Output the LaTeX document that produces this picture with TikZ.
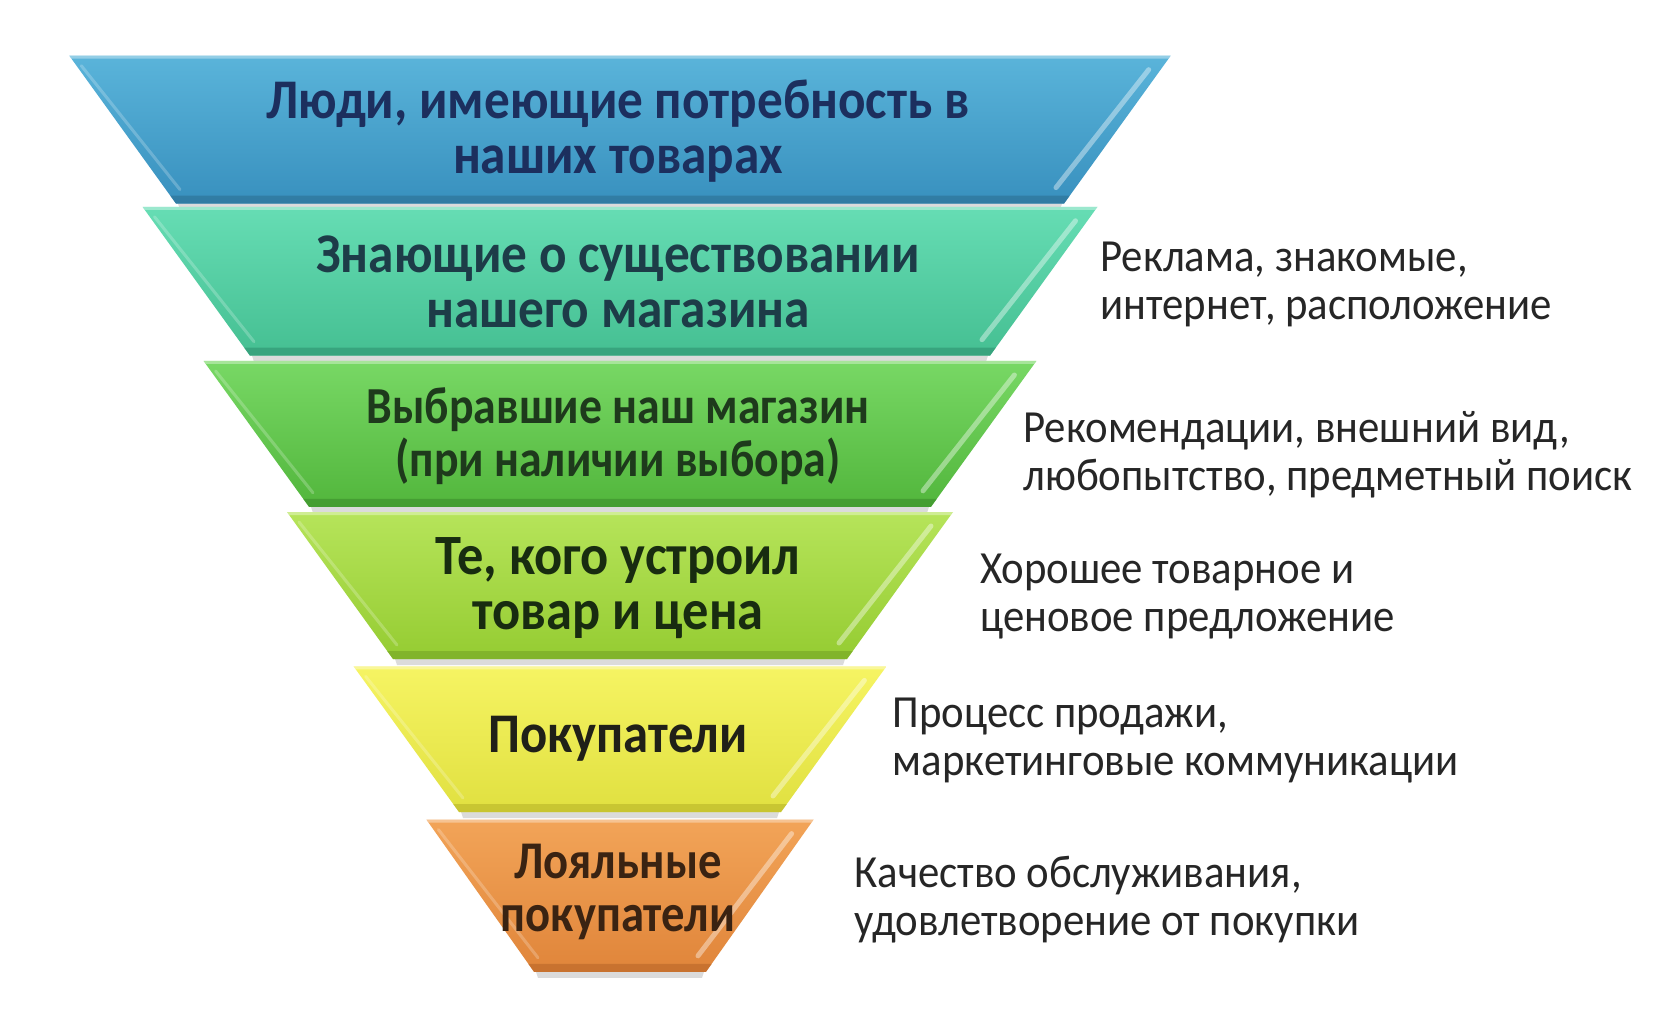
\documentclass[tikz,border=0pt]{standalone}
\usepackage{fontspec}
\setmainfont{Carlito}
\newfontfamily\layD[FakeStretch=0.88]{Carlito}
\newfontfamily\layA[FakeStretch=0.915]{Carlito}
\newfontfamily\layB[FakeStretch=0.92]{Carlito}
\newfontfamily\layC[FakeStretch=0.905]{Carlito}
\newfontfamily\sidefont[FakeStretch=0.93]{Carlito}
\definecolor{cAa}{HTML}{5AB4DA}\definecolor{cAb}{HTML}{3890BE}\definecolor{cAd}{HTML}{2C6F92}
\definecolor{cBa}{HTML}{66DDB4}\definecolor{cBb}{HTML}{45BF92}\definecolor{cBd}{HTML}{2F9270}
\definecolor{cCa}{HTML}{78D865}\definecolor{cCb}{HTML}{52B63C}\definecolor{cCd}{HTML}{3C8E2C}
\definecolor{cDa}{HTML}{B6E45A}\definecolor{cDb}{HTML}{95CC32}\definecolor{cDd}{HTML}{74A424}
\definecolor{cEa}{HTML}{F6F463}\definecolor{cEb}{HTML}{E0E040}\definecolor{cEd}{HTML}{B8B428}
\definecolor{cFa}{HTML}{F2A458}\definecolor{cFb}{HTML}{E0853A}\definecolor{cFd}{HTML}{B86628}
\definecolor{tA}{HTML}{1C2F5E}\definecolor{tB}{HTML}{1D3C48}\definecolor{tC}{HTML}{1E3A1C}
\definecolor{tD}{HTML}{182C10}\definecolor{tE}{HTML}{202018}\definecolor{tF}{HTML}{3A2312}
\definecolor{sidegray}{HTML}{262626}
\tikzset{
  laytext/.style={align=center, inner sep=0pt},
  sidetext/.style={font=\sidefont\fontsize{23}{24}\selectfont, align=left, anchor=west, inner sep=0pt, text=sidegray},
}
\begin{document}
\begin{tikzpicture}[x=0.5pt,y=-0.5pt]
\useasboundingbox[fill=white] (0,0) rectangle (1680,1021);
\foreach \ty/\by/\wt/\wb/\ca/\cb/\cd in {
  55.7/203.6/550.7/444/cAa/cAb/cAd,
  206.8/355.7/477.5/370/cBa/cBb/cBd,
  361/506.8/416.4/311/cCa/cCb/cCd,
  512/659/333/227/cDa/cDb/cDd,
  666.4/812/266.4/161/cEa/cEb/cEd,
  819.6/971.8/193.6/86/cFa/cFb/cFd}{
  \fill[black!40,opacity=0.35] (620-\wb+2,\by) -- (620+\wb-2,\by) -- (620+\wb-4,\by+6) -- (620-\wb+4,\by+6) -- cycle;
  \path[top color=\ca, bottom color=\cb] (620-\wt,\ty) -- (620+\wt,\ty) -- (620+\wb,\by) -- (620-\wb,\by) -- cycle;
  \fill[\cd,opacity=0.6] (620-\wb-5.8,\by-8) -- (620+\wb+5.8,\by-8) -- (620+\wb,\by) -- (620-\wb,\by) -- cycle;
  \fill[white,opacity=0.35] (620-\wt,\ty) -- (620+\wt,\ty) -- (620+\wt-2.2,\ty+3) -- (620-\wt+2.2,\ty+3) -- cycle;
  \draw[white,opacity=0.4,line width=2.5pt,line cap=round] (620+\wt-22,\ty+14) -- (620+\wb-8,\by-16);
  \draw[white,opacity=0.22,line width=1.5pt,line cap=round] (620-\wt+12,\ty+10) -- (620-\wb+4,\by-14);
}
\node[laytext,text=tA,font=\layA\bfseries\fontsize{28}{27.6}\selectfont] (l1) at (618,130.8) {Люди, имеющие потребность в\\наших товарах};
\node[laytext,text=tB,font=\layA\bfseries\fontsize{28}{27.6}\selectfont] (l2) at (618,282) {Знающие о существовании\\нашего магазина};
\node[laytext,text=tC,font=\layD\bfseries\fontsize{26}{26.5}\selectfont] (l3) at (618,436.5) {Выбравшие наш магазин\\(при наличии выбора)};
\node[laytext,text=tD,font=\layB\bfseries\fontsize{28.5}{27.6}\selectfont] (l4) at (618,588) {Те, кого устроил\\товар и цена};
\node[laytext,text=tE,font=\layC\bfseries\fontsize{28}{27.6}\selectfont] (l5) at (618,739) {Покупатели};
\node[laytext,text=tF,font=\layD\bfseries\fontsize{26.5}{26.5}\selectfont] (l6) at (618,892) {Лояльные\\покупатели};
\node[sidetext] (r2) at (1100,284) {Реклама, знакомые,\\интернет, расположение};
\node[sidetext] (r3) at (1023,455) {Рекомендации, внешний вид,\\любопытство, предметный поиск};
\node[sidetext] (r4) at (980,597) {Хорошее товарное и\\ценовое предложение};
\node[sidetext] (r5) at (892.5,741) {Процесс продажи,\\маркетинговые коммуникации};
\node[sidetext] (r6) at (854,900) {Качество обслуживания,\\удовлетворение от покупки};
\end{tikzpicture}
\end{document}
